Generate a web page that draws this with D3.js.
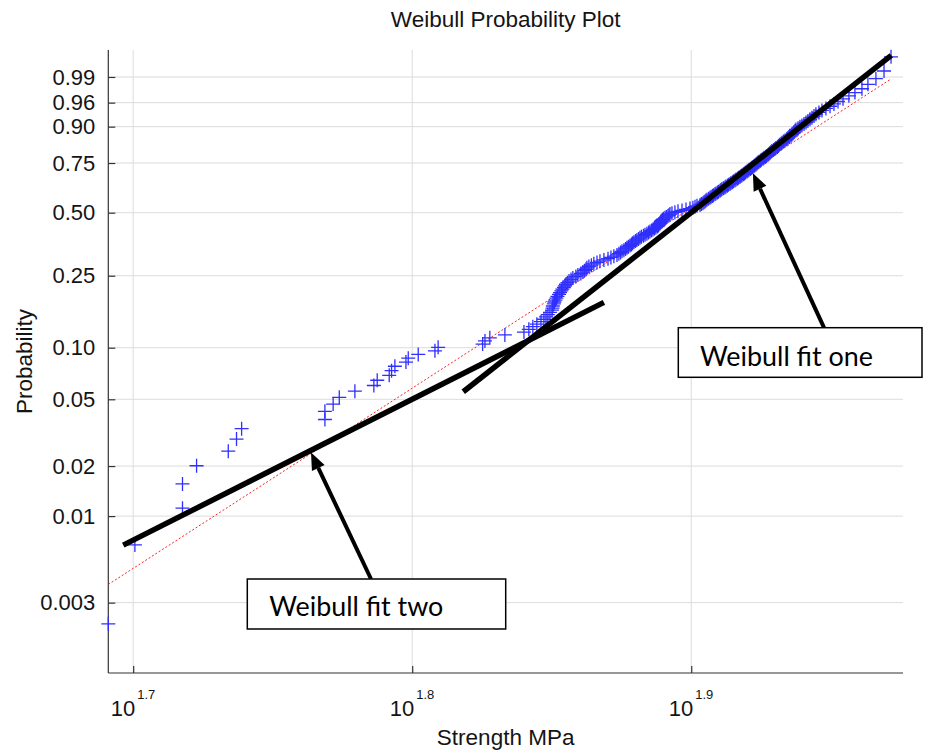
<!DOCTYPE html>
<html>
<head>
<meta charset="utf-8">
<script src="https://cdn.jsdelivr.net/npm/d3@7/dist/d3.min.js"></script>
<style>
  body { margin: 0; background: #ffffff; }
  svg { display: block; }
</style>
</head>
<body>
<svg id="chart" width="926" height="754"></svg>
<script>
// Fracture strength of 224 specimens (MPa), sorted ascending
const strength = [
  49.10, 50.19, 52.20, 52.20, 52.81, 54.21, 54.58, 54.81, 58.71, 58.71,
  59.11, 59.41, 60.18, 61.13, 61.30, 61.91, 62.03, 62.20, 62.77, 62.89,
  63.41, 64.29, 64.46, 66.87, 67.00, 67.27, 68.11, 69.19, 69.47, 69.70,
  69.93, 70.17, 70.34, 70.46, 70.57, 70.69, 70.81, 70.84, 70.86, 70.92,
  70.95, 71.01, 71.07, 71.13, 71.22, 71.28, 71.36, 71.42, 71.51, 71.57,
  71.63, 71.72, 71.81, 71.93, 72.04, 72.22, 72.34, 72.52, 72.64, 72.73,
  72.82, 72.88, 73.00, 73.15, 73.30, 73.49, 73.67, 73.91, 74.16, 74.34,
  74.52, 74.71, 74.83, 74.93, 75.02, 75.14, 75.24, 75.33, 75.42, 75.52,
  75.61, 75.67, 75.76, 75.86, 75.95, 76.05, 76.14, 76.23, 76.36, 76.46,
  76.58, 76.68, 76.77, 76.87, 76.96, 77.06, 77.15, 77.25, 77.31, 77.34,
  77.41, 77.44, 77.47, 77.50, 77.57, 77.63, 77.73, 77.82, 77.92, 77.99,
  78.05, 78.18, 78.37, 78.57, 78.83, 79.09, 79.35, 79.54, 79.68, 79.81,
  80.01, 80.10, 80.20, 80.27, 80.34, 80.40, 80.47, 80.57, 80.67, 80.74,
  80.83, 80.90, 81.00, 81.07, 81.17, 81.24, 81.34, 81.40, 81.47, 81.57,
  81.67, 81.74, 81.84, 81.91, 82.01, 82.08, 82.18, 82.25, 82.35, 82.42,
  82.52, 82.59, 82.69, 82.76, 82.83, 82.93, 83.00, 83.07, 83.17, 83.24,
  83.31, 83.41, 83.48, 83.55, 83.65, 83.72, 83.79, 83.86, 83.93, 84.00,
  84.10, 84.17, 84.28, 84.35, 84.45, 84.52, 84.62, 84.69, 84.76, 84.83,
  84.90, 85.01, 85.11, 85.18, 85.29, 85.36, 85.43, 85.54, 85.61, 85.71,
  85.82, 85.93, 86.03, 86.14, 86.25, 86.32, 86.39, 86.46, 86.53, 86.60,
  86.75, 86.89, 87.03, 87.18, 87.32, 87.46, 87.61, 87.75, 87.90, 88.04,
  88.26, 88.48, 88.77, 89.07, 89.36, 89.66, 90.03, 90.47, 90.92, 91.45,
  91.90, 92.51, 93.13, 93.67
];

// Probability axis ticks
const probTicks = [0.003, 0.01, 0.02, 0.05, 0.10, 0.25, 0.50, 0.75, 0.90, 0.96, 0.99];
const probTickLabels = ["0.003", "0.01", "0.02", "0.05", "0.10", "0.25", "0.50", "0.75", "0.90", "0.96", "0.99"];

// Strength axis ticks: powers of ten
const strengthTickExp = [1.7, 1.8, 1.9];
const strengthTickLabels = ["1.7", "1.8", "1.9"];

// Axis limits
const strengthDomain = [49.10, 94.60];
const probDomain = [0.001125, 0.998782];

// Overall Weibull reference fit (scale, shape)
const refScale = 81.65;
const refShape = 10.92;

// Hand-drawn two-regime fits
const fitNames = ["Weibull fit one", "Weibull fit two"];
const fitScale = [81.64, 89.33];
const fitShape = [13.29, 8.54];
const fitFrom = [65.81, 49.71];
const fitTo = [93.69, 73.91];
const arrowTipStrength = [83.58, 58.04];
const arrowTipProb = [0.699, 0.0241];

// ---- layout ----
const W = 926, H = 754;
const plotL = 108.3, plotR = 903, plotT = 50, plotB = 673;
const labelFont = "'Liberation Sans', Arial, Helvetica, sans-serif";
const noteFont = "Lato, 'Open Sans', sans-serif";
const axisColor = "#333333";
const textColor = "#141414";

const svg = d3.select("#chart");
svg.append("rect").attr("width", W).attr("height", H).attr("fill", "#fff");

// Weibull probability transform
const wt = p => Math.log(-Math.log(1 - p));
const weibullCdf = (v, a, b) => 1 - Math.exp(-Math.pow(v / a, b));

const x = d3.scaleLog().domain(strengthDomain).range([plotL, plotR]);
const y = d3.scaleLinear().domain([wt(probDomain[0]), wt(probDomain[1])]).range([plotB, plotT]);

const n = strength.length;
const points = strength.map((v, i) => ({ v, p: (i + 1 - 0.5) / n }));

// grid
const grid = svg.append("g");
grid.selectAll("line.h").data(probTicks).join("line")
  .attr("x1", plotL).attr("x2", plotR)
  .attr("y1", d => y(wt(d))).attr("y2", d => y(wt(d)))
  .attr("stroke", "#dcdcdc").attr("stroke-width", 1);
grid.selectAll("line.v").data(strengthTickExp).join("line")
  .attr("x1", d => x(Math.pow(10, d))).attr("x2", d => x(Math.pow(10, d)))
  .attr("y1", plotT).attr("y2", plotB)
  .attr("stroke", "#dcdcdc").attr("stroke-width", 1);

// axes
const yAxis = d3.axisLeft(y)
  .tickValues(probTicks.map(wt))
  .tickFormat((d, i) => probTickLabels[i])
  .tickSize(-7).tickPadding(13);
const gy = svg.append("g").attr("transform", `translate(${plotL},0)`).call(yAxis);
gy.select(".domain").attr("d", `M0,${plotT}V${plotB}`);

const xAxis = d3.axisBottom(x)
  .tickValues(strengthTickExp.map(e => Math.pow(10, e)))
  .tickFormat("")
  .tickSize(-7);
const gx = svg.append("g").attr("transform", `translate(0,${plotB})`).call(xAxis);
gx.select(".domain").attr("d", `M${plotL},0H${plotR}`);

[gx, gy].forEach(g => {
  g.selectAll(".domain").attr("stroke", axisColor).attr("stroke-width", 1.2);
  g.selectAll(".tick line").attr("stroke", axisColor).attr("stroke-width", 1.2);
  g.selectAll("text").attr("font-family", labelFont).attr("font-size", 22).attr("fill", textColor);
});

// x tick labels as 10^e
const xl = svg.append("g");
strengthTickExp.forEach((e, i) => {
  const px = x(Math.pow(10, e));
  xl.append("text").attr("font-family", labelFont).attr("fill", textColor)
    .attr("x", px + 2).attr("y", 716).attr("text-anchor", "end")
    .attr("font-size", 22).text("10");
  xl.append("text").attr("font-family", labelFont).attr("fill", textColor)
    .attr("x", px + 4).attr("y", 699).attr("font-size", 13).text(strengthTickLabels[i]);
});

// title and axis labels
svg.append("text").attr("x", (plotL + plotR) / 2).attr("y", 27)
  .attr("text-anchor", "middle").attr("font-family", labelFont).attr("font-size", 22.5)
  .attr("fill", textColor).text("Weibull Probability Plot");
svg.append("text").attr("x", (plotL + plotR) / 2).attr("y", 745)
  .attr("text-anchor", "middle").attr("font-family", labelFont).attr("font-size", 22.5)
  .attr("fill", textColor).text("Strength MPa");
svg.append("text").attr("transform", `translate(32,${(plotT + plotB) / 2}) rotate(-90)`)
  .attr("text-anchor", "middle").attr("font-family", labelFont).attr("font-size", 22.5)
  .attr("fill", textColor).text("Probability");

// reference fit line across the data range
const refEnds = [d3.min(strength), d3.max(strength)];
svg.append("line")
  .attr("x1", x(refEnds[0])).attr("y1", y(wt(weibullCdf(refEnds[0], refScale, refShape))))
  .attr("x2", x(refEnds[1])).attr("y2", y(wt(weibullCdf(refEnds[1], refScale, refShape))))
  .attr("stroke", "#ff2020").attr("stroke-width", 1).attr("stroke-dasharray", "2,2");

// data markers
const m = 7;
svg.append("g").selectAll("path").data(points).join("path")
  .attr("d", d => {
    const cx = x(d.v), cy = y(wt(d.p));
    return `M${cx - m},${cy}H${cx + m}M${cx},${cy - m}V${cy + m}`;
  })
  .attr("stroke", "#2f2fff").attr("stroke-width", 1.3).attr("fill", "none");

// two-regime fit lines
fitNames.forEach((name, i) => {
  svg.append("line")
    .attr("x1", x(fitFrom[i])).attr("y1", y(wt(weibullCdf(fitFrom[i], fitScale[i], fitShape[i]))))
    .attr("x2", x(fitTo[i])).attr("y2", y(wt(weibullCdf(fitTo[i], fitScale[i], fitShape[i]))))
    .attr("stroke", "#000").attr("stroke-width", 5.5);
});

// annotation boxes with arrows
const boxes = [
  { x0: 678.3, y0: 327.7, x1: 922, y1: 377.3, tx: 700, ty: 365.7, tw: 173, ax: 824 },
  { x0: 247.3, y0: 579, x1: 505.7, y1: 629, tx: 269.3, ty: 616, tw: 174, ax: 371 }
];
boxes.forEach((b, i) => {
  const tipX = x(arrowTipStrength[i]), tipY = y(wt(arrowTipProb[i]));
  const baseX = b.ax, baseY = b.y0;
  const ang = Math.atan2(tipY - baseY, tipX - baseX);
  const headLen = 17, headW = 7;
  const hx = tipX - headLen * Math.cos(ang), hy = tipY - headLen * Math.sin(ang);
  svg.append("line").attr("x1", baseX).attr("y1", baseY).attr("x2", hx).attr("y2", hy)
    .attr("stroke", "#000").attr("stroke-width", 4);
  const px = -Math.sin(ang), py = Math.cos(ang);
  svg.append("path")
    .attr("d", `M${tipX},${tipY}L${hx + px * headW},${hy + py * headW}L${hx - px * headW},${hy - py * headW}Z`)
    .attr("fill", "#000");
  svg.append("rect").attr("x", b.x0).attr("y", b.y0)
    .attr("width", b.x1 - b.x0).attr("height", b.y1 - b.y0)
    .attr("fill", "#fff").attr("stroke", "#000").attr("stroke-width", 1.5);
  svg.append("text").attr("x", b.tx).attr("y", b.ty)
    .attr("font-family", noteFont).attr("font-size", 26).attr("fill", "#000")
    .attr("textLength", b.tw).attr("lengthAdjust", "spacingAndGlyphs")
    .text(fitNames[i]);
});
</script>
</body>
</html>
